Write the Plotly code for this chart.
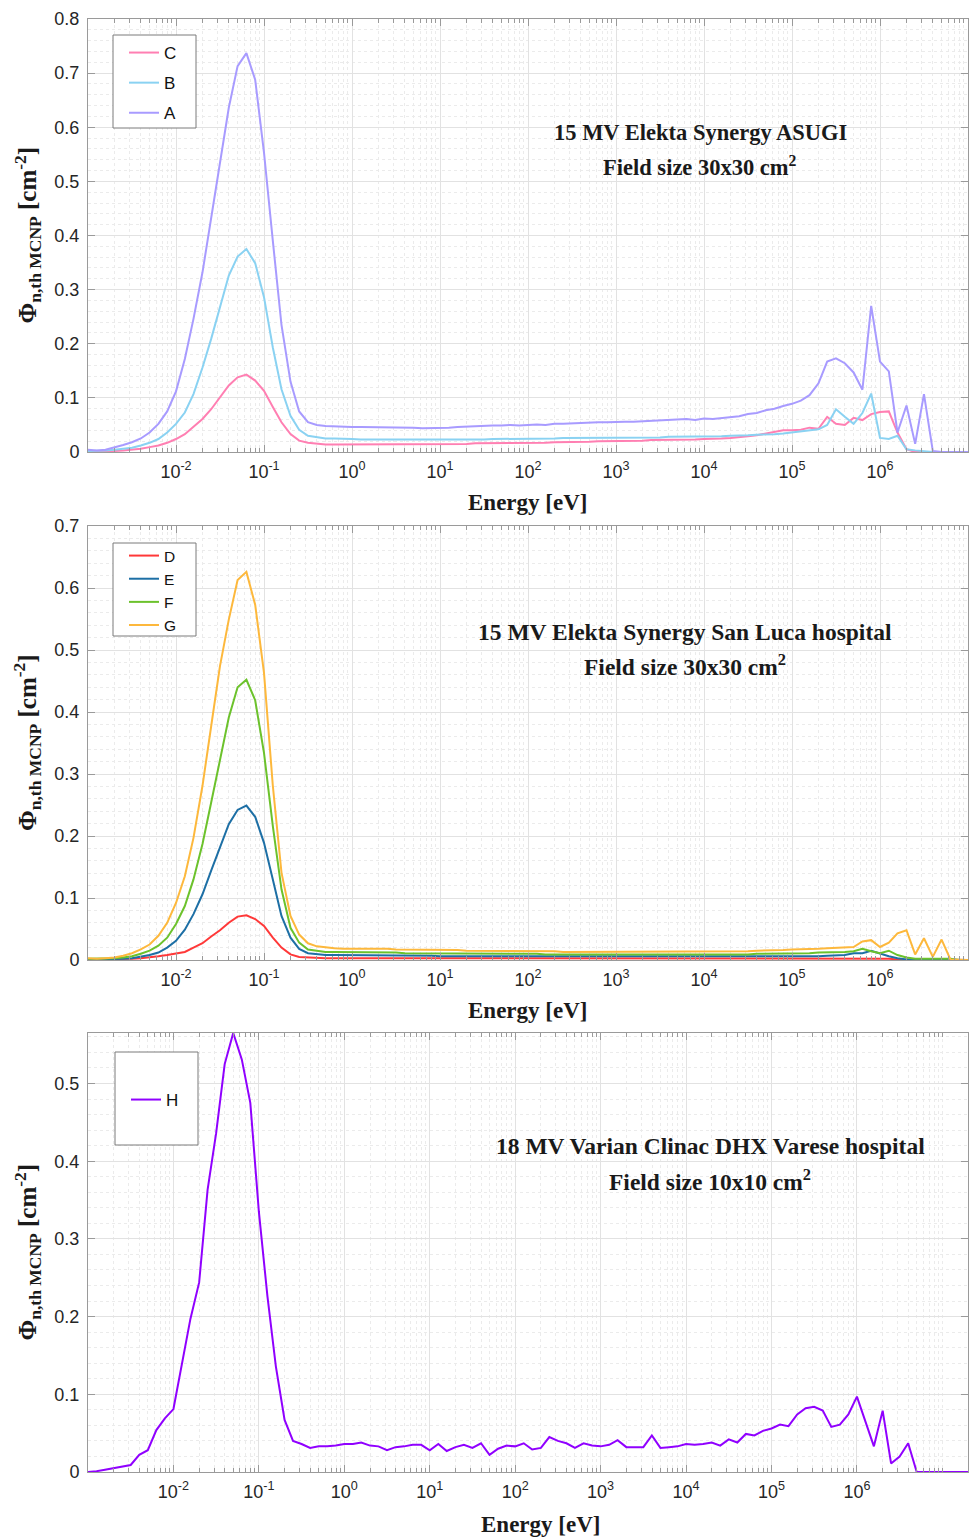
import plotly.graph_objects as go

# ---------------- data ----------------
ENERGY = [
    1.00e-3, 1.26e-3, 1.58e-3, 2.00e-3, 2.51e-3, 3.16e-3, 3.98e-3, 5.01e-3, 6.31e-3, 7.94e-3,
    1.00e-2, 1.26e-2, 1.58e-2, 2.00e-2, 2.51e-2, 3.16e-2, 3.98e-2, 5.01e-2, 6.31e-2, 7.94e-2,
    1.00e-1, 1.26e-1, 1.58e-1, 2.00e-1, 2.51e-1, 3.16e-1, 3.98e-1, 5.01e-1, 6.31e-1, 7.94e-1,
    1.00e0, 1.26e0, 1.58e0, 2.00e0, 2.51e0, 3.16e0, 3.98e0, 5.01e0, 6.31e0, 7.94e0,
    1.00e1, 1.26e1, 1.58e1, 2.00e1, 2.51e1, 3.16e1, 3.98e1, 5.01e1, 6.31e1, 7.94e1,
    1.00e2, 1.26e2, 1.58e2, 2.00e2, 2.51e2, 3.16e2, 3.98e2, 5.01e2, 6.31e2, 7.94e2,
    1.00e3, 1.26e3, 1.58e3, 2.00e3, 2.51e3, 3.16e3, 3.98e3, 5.01e3, 6.31e3, 7.94e3,
    1.00e4, 1.26e4, 1.58e4, 2.00e4, 2.51e4, 3.16e4, 3.98e4, 5.01e4, 6.31e4, 7.94e4,
    1.00e5, 1.26e5, 1.58e5, 2.00e5, 2.51e5, 3.16e5, 3.98e5, 5.01e5, 6.31e5, 7.94e5,
    1.00e6, 1.26e6, 1.58e6, 2.00e6, 2.51e6, 3.16e6, 3.98e6, 5.01e6, 6.31e6, 7.94e6,
    1.00e7,
]
ENERGY_H = ENERGY + [1.26e7, 1.58e7, 2.00e7]

# Panel 1: 15 MV Elekta Synergy ASUGI
A = [0.004, 0.003, 0.004, 0.008, 0.013, 0.018, 0.025, 0.036, 0.052, 0.075,
     0.112, 0.172, 0.246, 0.332, 0.430, 0.535, 0.636, 0.713, 0.737, 0.688,
     0.553, 0.390, 0.235, 0.130, 0.075, 0.055, 0.050, 0.048, 0.047, 0.047,
     0.046, 0.046, 0.046, 0.045, 0.045, 0.045, 0.045, 0.045, 0.044, 0.044,
     0.045, 0.045, 0.046, 0.047, 0.048, 0.048, 0.049, 0.049, 0.050, 0.049,
     0.050, 0.051, 0.050, 0.052, 0.052, 0.053, 0.053, 0.054, 0.055, 0.055,
     0.056, 0.056, 0.056, 0.057, 0.057, 0.058, 0.060, 0.060, 0.061, 0.059,
     0.062, 0.061, 0.063, 0.064, 0.066, 0.070, 0.072, 0.077, 0.080, 0.085,
     0.089, 0.095, 0.105, 0.127, 0.167, 0.173, 0.164, 0.147, 0.115, 0.270,
     0.167, 0.149, 0.036, 0.086, 0.015, 0.107, 0.002, 0.000, 0.000, 0.000,
     0.000]
B = [0.002, 0.002, 0.003, 0.004, 0.006, 0.008, 0.012, 0.017, 0.024, 0.036,
     0.052, 0.073, 0.107, 0.156, 0.209, 0.270, 0.326, 0.361, 0.375, 0.349,
     0.286, 0.193, 0.116, 0.067, 0.041, 0.030, 0.027, 0.025, 0.025, 0.025,
     0.024, 0.023, 0.023, 0.023, 0.023, 0.022, 0.022, 0.022, 0.022, 0.022,
     0.022, 0.022, 0.023, 0.023, 0.023, 0.023, 0.024, 0.024, 0.024, 0.024,
     0.025, 0.025, 0.025, 0.025, 0.026, 0.026, 0.026, 0.026, 0.026, 0.026,
     0.026, 0.026, 0.027, 0.027, 0.027, 0.027, 0.028, 0.028, 0.028, 0.028,
     0.028, 0.029, 0.029, 0.030, 0.030, 0.031, 0.032, 0.032, 0.033, 0.034,
     0.036, 0.037, 0.039, 0.042, 0.050, 0.079, 0.065, 0.052, 0.072, 0.108,
     0.026, 0.024, 0.030, 0.005, 0.003, 0.001, 0.000, 0.000, 0.000, 0.000,
     0.000]
C = [0.001, 0.001, 0.001, 0.002, 0.003, 0.004, 0.006, 0.009, 0.012, 0.017,
     0.024, 0.033, 0.046, 0.061, 0.079, 0.101, 0.123, 0.138, 0.143, 0.132,
     0.113, 0.083, 0.055, 0.033, 0.021, 0.017, 0.015, 0.014, 0.014, 0.014,
     0.014, 0.014, 0.014, 0.014, 0.014, 0.014, 0.014, 0.014, 0.015, 0.015,
     0.015, 0.015, 0.015, 0.015, 0.016, 0.016, 0.016, 0.016, 0.016, 0.017,
     0.017, 0.017, 0.017, 0.018, 0.018, 0.018, 0.019, 0.019, 0.020, 0.020,
     0.020, 0.021, 0.021, 0.021, 0.022, 0.022, 0.022, 0.023, 0.023, 0.023,
     0.024, 0.024, 0.025, 0.026, 0.027, 0.029, 0.031, 0.034, 0.038, 0.040,
     0.040, 0.041, 0.045, 0.043, 0.065, 0.052, 0.050, 0.063, 0.059, 0.070,
     0.074, 0.075, 0.036, 0.005, 0.000, 0.000, 0.000, 0.000, 0.000, 0.000,
     0.000]

# Panel 2: 15 MV Elekta Synergy San Luca hospital
D = [0.001, 0.001, 0.001, 0.001, 0.002, 0.002, 0.003, 0.004, 0.006, 0.008,
     0.010, 0.013, 0.020, 0.027, 0.038, 0.048, 0.060, 0.070, 0.072, 0.066,
     0.055, 0.036, 0.020, 0.009, 0.005, 0.004, 0.003, 0.003, 0.003, 0.003,
     0.003, 0.003, 0.003, 0.003, 0.003, 0.003, 0.003, 0.003, 0.003, 0.003,
     0.003, 0.003, 0.003, 0.003, 0.003, 0.003, 0.003, 0.003, 0.003, 0.003,
     0.003, 0.003, 0.003, 0.003, 0.003, 0.003, 0.003, 0.003, 0.003, 0.003,
     0.003, 0.003, 0.003, 0.003, 0.003, 0.003, 0.003, 0.003, 0.003, 0.003,
     0.003, 0.003, 0.003, 0.003, 0.003, 0.003, 0.003, 0.003, 0.003, 0.003,
     0.003, 0.003, 0.003, 0.003, 0.003, 0.003, 0.003, 0.003, 0.003, 0.003,
     0.002, 0.002, 0.001, 0.001, 0.001, 0.000, 0.000, 0.000, 0.000, 0.000,
     0.000]
E = [0.001, 0.001, 0.001, 0.001, 0.002, 0.003, 0.005, 0.008, 0.012, 0.020,
     0.031, 0.049, 0.074, 0.106, 0.144, 0.181, 0.219, 0.242, 0.249, 0.231,
     0.189, 0.130, 0.071, 0.036, 0.018, 0.011, 0.009, 0.008, 0.008, 0.008,
     0.008, 0.007, 0.007, 0.007, 0.007, 0.007, 0.007, 0.007, 0.007, 0.007,
     0.006, 0.006, 0.006, 0.006, 0.006, 0.006, 0.006, 0.006, 0.006, 0.006,
     0.005, 0.005, 0.005, 0.005, 0.005, 0.005, 0.005, 0.005, 0.005, 0.005,
     0.005, 0.005, 0.005, 0.005, 0.005, 0.005, 0.005, 0.005, 0.005, 0.005,
     0.005, 0.005, 0.005, 0.005, 0.005, 0.005, 0.005, 0.005, 0.005, 0.005,
     0.005, 0.005, 0.006, 0.006, 0.007, 0.007, 0.008, 0.011, 0.011, 0.015,
     0.010, 0.006, 0.003, 0.001, 0.001, 0.001, 0.000, 0.000, 0.000, 0.000,
     0.000]
F = [0.002, 0.002, 0.002, 0.003, 0.004, 0.006, 0.010, 0.015, 0.023, 0.036,
     0.058, 0.087, 0.130, 0.187, 0.254, 0.324, 0.391, 0.440, 0.452, 0.419,
     0.334, 0.216, 0.114, 0.052, 0.028, 0.017, 0.015, 0.013, 0.013, 0.013,
     0.013, 0.012, 0.012, 0.012, 0.012, 0.012, 0.011, 0.011, 0.011, 0.011,
     0.011, 0.011, 0.011, 0.010, 0.010, 0.010, 0.010, 0.010, 0.010, 0.010,
     0.010, 0.010, 0.009, 0.009, 0.009, 0.009, 0.009, 0.009, 0.009, 0.009,
     0.008, 0.008, 0.008, 0.008, 0.008, 0.008, 0.008, 0.008, 0.008, 0.008,
     0.008, 0.008, 0.008, 0.009, 0.009, 0.009, 0.010, 0.010, 0.010, 0.010,
     0.011, 0.011, 0.011, 0.012, 0.012, 0.012, 0.013, 0.014, 0.018, 0.014,
     0.011, 0.015, 0.008, 0.004, 0.002, 0.002, 0.002, 0.002, 0.002, 0.000,
     0.000]
G = [0.003, 0.002, 0.003, 0.004, 0.007, 0.011, 0.017, 0.025, 0.039, 0.060,
     0.092, 0.135, 0.197, 0.281, 0.377, 0.474, 0.549, 0.613, 0.626, 0.573,
     0.463, 0.281, 0.141, 0.071, 0.041, 0.027, 0.022, 0.020, 0.019, 0.018,
     0.018, 0.018, 0.019, 0.018, 0.018, 0.017, 0.017, 0.017, 0.016, 0.016,
     0.016, 0.016, 0.016, 0.015, 0.015, 0.015, 0.015, 0.015, 0.014, 0.014,
     0.014, 0.014, 0.014, 0.014, 0.013, 0.013, 0.013, 0.013, 0.013, 0.013,
     0.013, 0.013, 0.013, 0.013, 0.013, 0.013, 0.013, 0.013, 0.013, 0.013,
     0.013, 0.013, 0.013, 0.013, 0.014, 0.014, 0.015, 0.015, 0.016, 0.016,
     0.017, 0.017, 0.018, 0.018, 0.019, 0.020, 0.020, 0.021, 0.030, 0.032,
     0.021, 0.028, 0.043, 0.048, 0.009, 0.035, 0.005, 0.033, 0.001, 0.000,
     0.000]

# Panel 3: 18 MV Varian Clinac DHX Varese hospital
H_VALUES = [
    0.000, 0.001, 0.003, 0.005, 0.007, 0.009, 0.022, 0.028, 0.054, 0.069,
    0.081, 0.140, 0.197, 0.244, 0.363, 0.436, 0.525, 0.565, 0.531, 0.475,
    0.335, 0.226, 0.136, 0.067, 0.040, 0.036, 0.031, 0.033, 0.033, 0.034,
    0.036, 0.036, 0.038, 0.034, 0.033, 0.028, 0.032, 0.033, 0.035, 0.035,
    0.028, 0.036, 0.027, 0.032, 0.035, 0.031, 0.037, 0.022, 0.030, 0.034,
    0.033, 0.037, 0.029, 0.031, 0.045, 0.040, 0.037, 0.031, 0.037, 0.034,
    0.033, 0.035, 0.041, 0.032, 0.032, 0.032, 0.047, 0.031, 0.032, 0.033,
    0.036, 0.035, 0.036, 0.038, 0.034, 0.042, 0.038, 0.049, 0.047, 0.053,
    0.056, 0.061, 0.059, 0.074, 0.082, 0.084, 0.079, 0.058, 0.061, 0.074,
    0.097, 0.065, 0.033, 0.079, 0.011, 0.020, 0.037, 0.000, 0.000, 0.000,
    0.000, 0.000, 0.000, 0.000]

XTICK_VALS = [1e-2, 1e-1, 1e0, 1e1, 1e2, 1e3, 1e4, 1e5, 1e6]
XTICK_TEXT = ["10<sup>-2</sup>", "10<sup>-1</sup>", "10<sup>0</sup>", "10<sup>1</sup>",
              "10<sup>2</sup>", "10<sup>3</sup>", "10<sup>4</sup>", "10<sup>5</sup>",
              "10<sup>6</sup>"]

PANEL_TITLES = [
    ("15 MV Elekta Synergy ASUGI", "Field size 30x30 cm<sup>2</sup>"),
    ("15 MV Elekta Synergy San Luca hospital", "Field size 30x30 cm<sup>2</sup>"),
    ("18 MV Varian Clinac DHX Varese hospital", "Field size 10x10 cm<sup>2</sup>"),
]
Y_TITLE = "<b>Φ<sub>n,th MCNP</sub> [cm<sup>-2</sup>]</b>"
X_TITLE = "<b>Energy [eV]</b>"

COLORS = {"A": "#a89bff", "B": "#8ad2f2", "C": "#ff7fb2",
          "D": "#ff3838", "E": "#1d6fa5", "F": "#6cc22c", "G": "#fdb83c",
          "H": "#9000ff"}

# ---------------- layout helpers ----------------
W, HGT = 970, 1539
X0, X1 = 88, 968
PANELS = [(19, 452), (526, 960), (1033, 1472)]   # pixel top/bottom of each plot area
YRANGES = [[0, 0.8], [0, 0.7], [0, 0.565]]
XRANGES = [[-3, 7], [-3, 7], [-3, 7.3]]


def fx(px):
    return px / W


def fy(py):
    return 1 - py / HGT


TICK_FONT = dict(family="Liberation Sans, Arial, sans-serif", size=18, color="#262626")
SERIF = "Liberation Serif, Times New Roman, serif"
AXCOL = "#9a9a9a"
GRID = "#e2e2e2"
MINOR_GRID = "#ebebeb"

minor_x = [m * 10.0 ** e for e in range(-3, 7) for m in range(2, 10)] + [1e7]

fig = go.Figure()

groups = [(["C", "B", "A"], [C, B, A], ENERGY),
          (["D", "E", "F", "G"], [D, E, F, G], ENERGY),
          (["H"], [H_VALUES], ENERGY_H)]

for p, (names, ys, xs) in enumerate(groups):
    sfx = "" if p == 0 else str(p + 1)
    for n, y in zip(names, ys):
        fig.add_trace(go.Scatter(
            x=xs, y=y, name=n, mode="lines",
            line=dict(color=COLORS[n], width=2),
            xaxis="x" + sfx, yaxis="y" + sfx,
            legend="legend" + sfx, legendgroup=n,
        ))

layout = dict(
    width=W, height=HGT,
    margin=dict(l=0, r=0, t=0, b=0, autoexpand=False),
    paper_bgcolor="white", plot_bgcolor="white",
    showlegend=True,
)

for p in range(3):
    sfx = "" if p == 0 else str(p + 1)
    top, bot = PANELS[p]
    layout["xaxis" + sfx] = dict(
        type="log", range=XRANGES[p], domain=[fx(X0), fx(X1)], anchor="y" + sfx,
        automargin=False,
        tickmode="array", tickvals=XTICK_VALS, ticktext=XTICK_TEXT,
        ticks="inside", ticklen=7, tickcolor=AXCOL, tickwidth=1,
        showline=True, linecolor=AXCOL, linewidth=1, mirror="ticks",
        showgrid=True, gridcolor=GRID, gridwidth=1, zeroline=False,
        tickfont=TICK_FONT, ticklabelstandoff=3,
        minor=dict(tickmode="array", tickvals=minor_x, ticks="inside", ticklen=4,
                   tickcolor=AXCOL, showgrid=True, gridcolor=MINOR_GRID,
                   griddash="dot", gridwidth=1),
    )
    layout["yaxis" + sfx] = dict(
        range=YRANGES[p], domain=[fy(bot), fy(top)], anchor="x" + sfx,
        automargin=False,
        tick0=0, dtick=0.1,
        ticks="inside", ticklen=7, tickcolor=AXCOL, tickwidth=1,
        showline=True, linecolor=AXCOL, linewidth=1, mirror="ticks",
        showgrid=True, gridcolor=GRID, gridwidth=1, zeroline=False,
        tickfont=TICK_FONT, ticklabelstandoff=4,
        minor=dict(dtick=0.02, tick0=0, ticks="", showgrid=True,
                   gridcolor=MINOR_GRID, griddash="dot", gridwidth=1),
    )

# legend boxes (drawn as shapes) and legends inside them
LEG_BOXES = [(113, 35, 196, 128), (113, 543, 196, 636), (115, 1052, 198, 1145)]
LEG_TOPS = [35, 539, 1082]
LEG_GAPS = [5, 0, 0]
LEG_FONTS = [17, 15.5, 17]
shapes = []
for p, (x0, y0, x1, y1) in enumerate(LEG_BOXES):
    shapes.append(dict(type="rect", xref="paper", yref="paper",
                       x0=fx(x0), x1=fx(x1), y0=fy(y1), y1=fy(y0),
                       fillcolor="white", line=dict(color="#7a7a7a", width=1),
                       layer="above"))
    sfx = "" if p == 0 else str(p + 1)
    layout["legend" + sfx] = dict(
        x=fx(x0 + 11), y=fy(LEG_TOPS[p]), xanchor="left", yanchor="top",
        bgcolor="rgba(0,0,0,0)", borderwidth=0, itemwidth=30,
        tracegroupgap=LEG_GAPS[p],
        font=dict(family="Liberation Sans, Arial, sans-serif", size=LEG_FONTS[p],
                  color="#111111"),
    )

# white boxes behind panel titles
TITLE_BOXES = [(545, 112, 866, 186), (470, 612, 906, 688), (490, 1126, 934, 1198)]
for (x0, y0, x1, y1) in TITLE_BOXES:
    shapes.append(dict(type="rect", xref="paper", yref="paper",
                       x0=fx(x0), x1=fx(x1), y0=fy(y1), y1=fy(y0),
                       fillcolor="white", line=dict(width=0), layer="between"))
layout["shapes"] = shapes

annotations = []
TITLE_POS = [(700, 133, 166), (685, 632, 665), (710, 1146, 1180)]
TITLE_SIZES = [22.5, 23.5, 23.5]
for (l1, l2), (cx, y1, y2), ts in zip(PANEL_TITLES, TITLE_POS, TITLE_SIZES):
    for txt, yy in ((l1, y1), (l2, y2)):
        annotations.append(dict(text="<b>" + txt + "</b>", x=fx(cx), y=fy(yy),
                                xref="paper", yref="paper", xanchor="center",
                                yanchor="middle", showarrow=False,
                                font=dict(family=SERIF, size=ts, color="#1a1a1a")))
for p, (top, bot) in enumerate(PANELS):
    annotations.append(dict(text=Y_TITLE, x=fx(27), y=fy((top + bot) / 2),
                            xref="paper", yref="paper", xanchor="center",
                            yanchor="middle", textangle=-90, showarrow=False,
                            font=dict(family=SERIF, size=25, color="#1a1a1a")))
    xc = 540 if p == 2 else 527
    yoff = 52 if p == 2 else 50
    annotations.append(dict(text=X_TITLE, x=fx(xc), y=fy(bot + yoff),
                            xref="paper", yref="paper", xanchor="center",
                            yanchor="middle", showarrow=False,
                            font=dict(family=SERIF, size=23, color="#1a1a1a")))
layout["annotations"] = annotations

fig.update_layout(**layout)

PAGE_FIX = ("document.body.style.margin='0';document.body.style.padding='0';"
            "document.documentElement.style.overflow='hidden';"
            "var gd=document.getElementById('{plot_id}');"
            "gd.style.position='absolute';gd.style.left='0px';gd.style.top='0px';")
fig.write_html("out.html", post_script=PAGE_FIX, config={"displayModeBar": False})
